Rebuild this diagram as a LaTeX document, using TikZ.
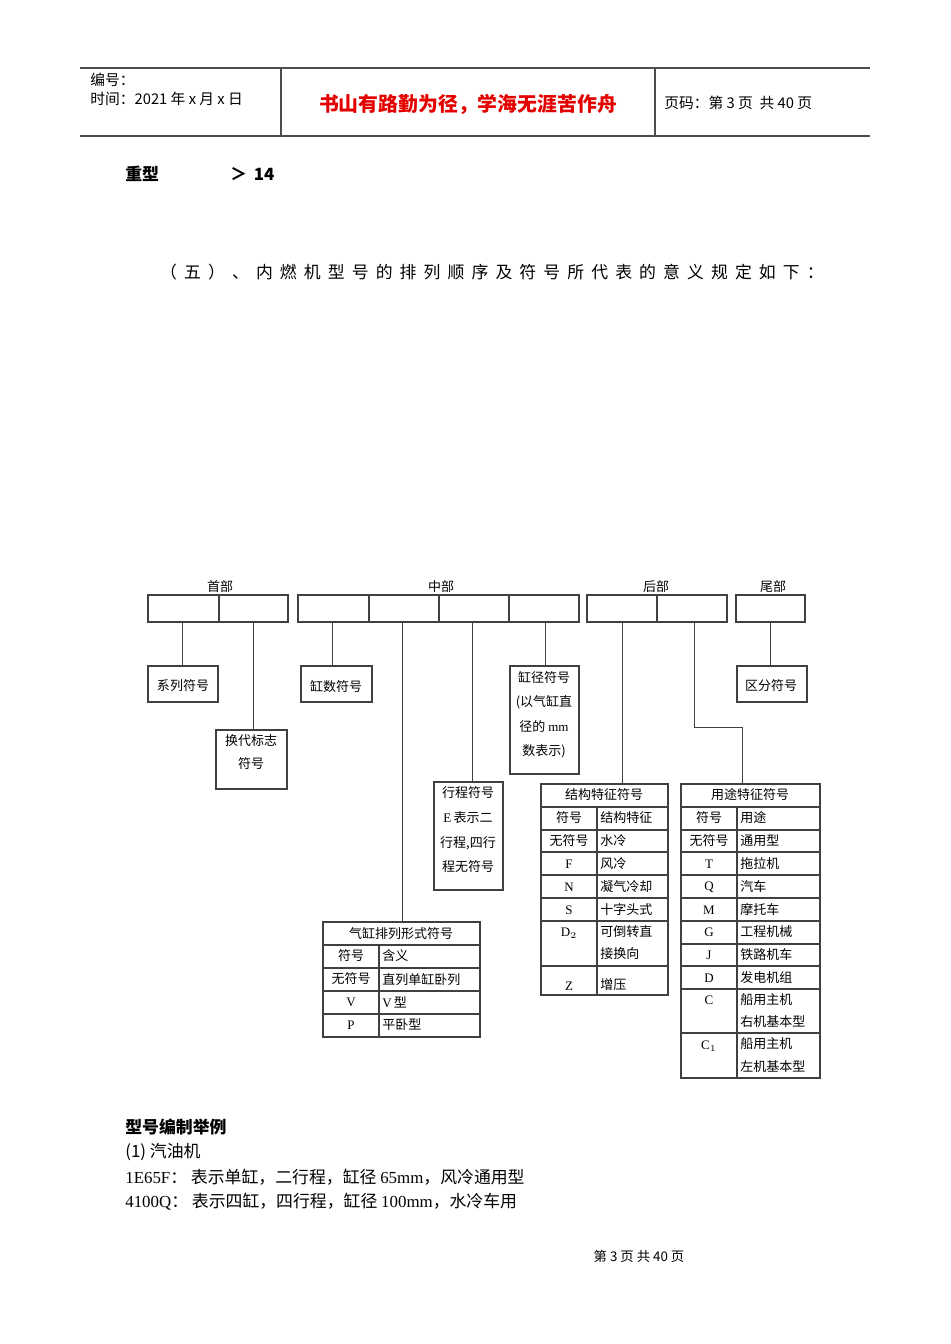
\documentclass[tikz,border=0pt]{standalone}
\usepackage{fontspec}
\setmainfont{Liberation Serif}
\newfontfamily\cjk{Noto Sans CJK SC}
\newfontfamily\cjksp[LetterSpace=42]{Noto Sans CJK SC}
\begin{document}
\begin{tikzpicture}[x=0.02cm,y=-0.02cm,
  ln/.style={draw=black!75,line width=0.5pt},
  bx/.style={draw=black!75,line width=0.6pt},
  dt/.style={font=\cjk\fontsize{7.4pt}{9pt}\selectfont,inner sep=0pt},
  tl/.style={font=\fontsize{7.4pt}{9pt}\selectfont,inner sep=0pt},
  hd/.style={font=\cjk\fontsize{8.4pt}{10pt}\selectfont,inner sep=0pt,anchor=west},
  bt/.style={font=\cjk\fontsize{9.6pt}{11pt}\selectfont,inner sep=0pt,anchor=west}]
\useasboundingbox (0,0) rectangle (950,1344);
% header
\draw[line width=0.7pt,black!70] (80,68) -- (870,68) (80,136) -- (870,136) (281,68) -- (281,136) (655,68) -- (655,136);
\node[hd] (h1) at (90,80) {编号：};
\node[hd] (h2) at (90,99) {时间：2021 年 x 月 x 日};
\node[font=\cjk\bfseries\fontsize{11.3pt}{13pt}\selectfont,text=red!90!black,inner sep=0pt] (h3) at (468,104) {书山有路勤为径，学海无涯苦作舟};
\node[hd] (h4) at (664,103) {页码：第 3 页\ \ 共 40 页};
\node[bt,font=\cjk\bfseries\fontsize{9.6pt}{11pt}\selectfont] (zx) at (125,174) {重型};
\node[bt,font=\cjk\bfseries\fontsize{9.6pt}{11pt}\selectfont] (gt) at (230,174) {＞\ \,14};
\node[font=\cjksp\fontsize{9.6pt}{11pt}\selectfont,inner sep=0pt] (ttl) at (492,272) {（五）、内燃机型号的排列顺序及符号所代表的意义规定如下：};
% diagram labels
\node[dt] (l1) at (220,587) {首部};
\node[dt] (l2) at (441,587) {中部};
\node[dt] (l3) at (656,587) {后部};
\node[dt] (l4) at (773,587) {尾部};
% top boxes
\draw[bx] (148,595) rectangle (288,622) (219,595) -- (219,622);
\draw[bx] (298,595) rectangle (579,622) (369,595) -- (369,622) (439,595) -- (439,622) (509,595) -- (509,622);
\draw[bx] (587,595) rectangle (727,622) (657,595) -- (657,622);
\draw[bx] (736,595) rectangle (805,622);
% leaf boxes
\draw[bx] (148,666) rectangle (218,702); \node[dt] (xlt) at (183,686) {系列符号};
\draw[bx] (216,730) rectangle (287,789); \node[dt] (hd1) at (251,741) {换代标志}; \node[dt] (hd2) at (251,764) {符号};
\draw[bx] (301,666) rectangle (372,702); \node[dt] (gs) at (336,686) {缸数符号};
\draw[bx] (510,666) rectangle (579,774);
\node[dt] (gj1) at (544,677) {缸径符号};
\node[dt] (gj2) at (544,702) {(以气缸直};
\node[dt] (gj3) at (544,727) {径的 \fontspec{Liberation Serif}mm};
\node[dt] (gj4) at (544,751) {数表示)};
\draw[bx] (434,782) rectangle (503,890);
\node[dt] (xc1) at (468,793) {行程符号};
\node[dt] (xc2) at (468,818) {\fontspec{Liberation Serif}E\,\cjk 表示二};
\node[dt] (xc3) at (468,843) {行程,四行};
\node[dt] (xc4) at (468,867) {程无符号};
\draw[bx] (737,666) rectangle (807,702); \node[dt] (qf) at (771,686) {区分符号};
% connectors
\draw[ln] (182,622) -- (182,666);
\draw[ln] (253,622) -- (253,730);
\draw[ln] (332,622) -- (332,666);
\draw[ln] (402,622) -- (402,922);
\draw[ln] (472,622) -- (472,782);
\draw[ln] (545,622) -- (545,666);
\draw[ln] (622,622) -- (622,784);
\draw[ln] (694,622) -- (694,727) -- (742,727) -- (742,784);
\draw[ln] (770,622) -- (770,666);
% table 1
\draw[bx] (323,922) rectangle (480,1037);
\foreach \y in {945,968,991,1014} \draw[bx] (323,\y) -- (480,\y);
\draw[bx] (379,945) -- (379,1037);
\node[dt] at (401,933) {气缸排列形式符号};
\node[dt] at (351,956) {符号}; \node[dt,anchor=west] at (382,956) {含义};
\node[dt] at (351,979) {无符号}; \node[dt,anchor=west] at (382,979) {直列单缸卧列};
\node[tl] at (351,1002) {V}; \node[dt,anchor=west] at (382,1002) {\fontspec{Liberation Serif}V\,\cjk 型};
\node[tl] at (351,1025) {P}; \node[dt,anchor=west] at (382,1025) {平卧型};
% table 2
\draw[bx] (541,784) rectangle (668,995);
\foreach \y in {807,830,852,875,898,921,966} \draw[bx] (541,\y) -- (668,\y);
\draw[bx] (597,807) -- (597,995);
\node[dt] at (604,795) {结构特征符号};
\node[dt] at (569,818) {符号}; \node[dt,anchor=west] at (600,818) {结构特征};
\node[dt] at (569,841) {无符号}; \node[dt,anchor=west] at (600,841) {水冷};
\node[tl] at (569,864) {F}; \node[dt,anchor=west] at (600,864) {风冷};
\node[tl] at (569,887) {N}; \node[dt,anchor=west] at (600,887) {凝气冷却};
\node[tl] at (569,910) {S}; \node[dt,anchor=west] at (600,910) {十字头式};
\node[tl] at (569,933) {D$_{2}$}; \node[dt,anchor=west] at (600,932) {可倒转直}; \node[dt,anchor=west] at (600,954) {接换向};
\node[tl] at (569,986) {Z}; \node[dt,anchor=west] at (600,985) {增压};
% table 3
\draw[bx] (681,784) rectangle (820,1078);
\foreach \y in {807,830,852,875,898,921,944,966,989,1033} \draw[bx] (681,\y) -- (820,\y);
\draw[bx] (737,807) -- (737,1078);
\node[dt] at (750,795) {用途特征符号};
\node[dt] at (709,818) {符号}; \node[dt,anchor=west] at (740,818) {用途};
\node[dt] at (709,841) {无符号}; \node[dt,anchor=west] at (740,841) {通用型};
\node[tl] at (709,864) {T}; \node[dt,anchor=west] at (740,864) {拖拉机};
\node[tl] at (709,887) {Q}; \node[dt,anchor=west] at (740,887) {汽车};
\node[tl] at (709,910) {M}; \node[dt,anchor=west] at (740,910) {摩托车};
\node[tl] at (709,932) {G}; \node[dt,anchor=west] at (740,932) {工程机械};
\node[tl] at (709,955) {J}; \node[dt,anchor=west] at (740,955) {铁路机车};
\node[tl] at (709,978) {D}; \node[dt,anchor=west] at (740,978) {发电机组};
\node[tl] at (709,1000) {C}; \node[dt,anchor=west] at (740,1000) {船用主机}; \node[dt,anchor=west] at (740,1022) {右机基本型};
\node[tl] at (709,1046) {C$_{1}$}; \node[dt,anchor=west] at (740,1044) {船用主机}; \node[dt,anchor=west] at (740,1067) {左机基本型};
% bottom
\node[bt,font=\cjk\bfseries\fontsize{9.6pt}{11pt}\selectfont] (ex) at (125,1127) {型号编制举例};
\node[bt] (e1) at (125,1152) {(1)\ 汽油机};
\node[bt] (e2) at (125,1177) {{\fontspec{Liberation Serif}1E65F}：\ 表示单缸，二行程，缸径 {\fontspec{Liberation Serif}65mm}，风冷通用型};
\node[bt] (e3) at (125,1202) {{\fontspec{Liberation Serif}4100Q}：\ 表示四缸，四行程，缸径 {\fontspec{Liberation Serif}100mm}，水冷车用};
\node[dt,font=\cjk\fontsize{7.6pt}{9pt}\selectfont] (ft) at (639,1256) {第\ 3\ 页\ 共\ 40\ 页};
\end{tikzpicture}
\end{document}
